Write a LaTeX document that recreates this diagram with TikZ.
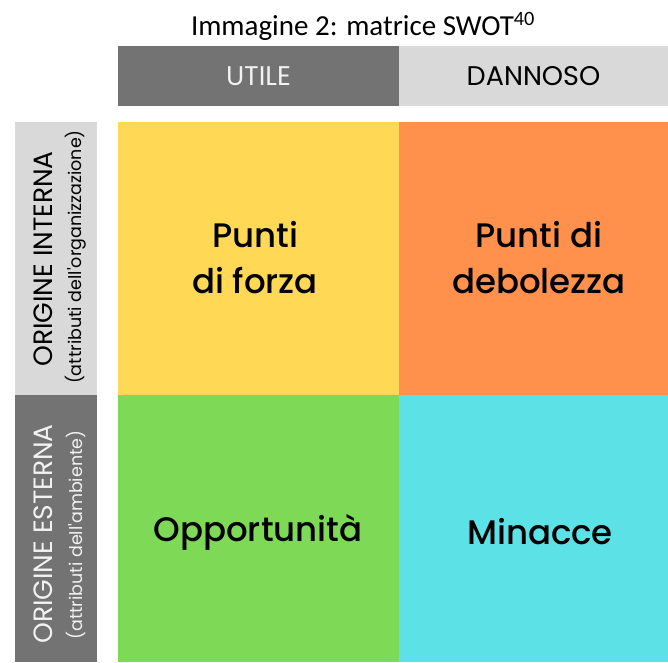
\documentclass[tikz,border=0pt]{standalone}
\usepackage{fontspec}
\setmainfont{Poppins}[UprightFont={* Regular}]
\newfontfamily\popmed{Poppins}[UprightFont={* Medium}]
\newfontfamily\popreg{Poppins}[UprightFont={* Regular}]
\newfontfamily\titlefont{Carlito}
\definecolor{darkgray}{HTML}{737373}
\definecolor{lightgray}{HTML}{D9D9D9}
\definecolor{qyellow}{HTML}{FFD955}
\definecolor{qorange}{HTML}{FF914D}
\definecolor{qgreen}{HTML}{7ED957}
\definecolor{qcyan}{HTML}{5CE1E6}
\definecolor{paletext}{HTML}{F2F2F2}
\tikzset{
  cell/.style={draw=none, inner sep=0pt, outer sep=0pt, anchor=north west},
  quadtext/.style={font=\popmed\fontsize{34}{46}\selectfont, align=center, text=black},
  headtext/.style={font=\popreg\fontsize{27}{30}\selectfont},
  sidetext/.style={font=\popreg\fontsize{26.5}{30}\selectfont, rotate=90},
  subtext/.style={font=\popreg\fontsize{17.5}{20}\selectfont, rotate=90},
}
\begin{document}
\begin{tikzpicture}[x=1pt,y=-1pt]
\useasboundingbox (0,0) rectangle (668,662);
% title
\node[font=\titlefont\fontsize{29}{32}\selectfont, anchor=base] (title) at (363,35) {Immagine 2: matrice SWOT\textsuperscript{40}};
% header
\node[cell, fill=darkgray, minimum width=281pt, minimum height=60pt] (hu) at (118,46) {};
\node[cell, fill=lightgray, minimum width=269pt, minimum height=60pt] (hd) at (399,46) {};
\node[headtext, text=paletext] (hutext) at (hu.center) {UTILE};
\node[headtext, text=black] (hdtext) at (hd.center) {DANNOSO};
% side strips
\node[cell, fill=lightgray, minimum width=82pt, minimum height=273pt] (si) at (15,122) {};
\node[cell, fill=darkgray, minimum width=82pt, minimum height=267pt] (se) at (15,395) {};
\node[sidetext, text=black] (sit) at (43,259) {ORIGINE INTERNA};
\node[subtext, text=black] (sis) at (76,257) {(attributi dell'organizzazione)};
\node[sidetext, text=paletext] (set) at (43,534) {ORIGINE ESTERNA};
\node[subtext, text=paletext] (ses) at (76,535) {(attributi dell'ambiente)};
% quadrants
\node[cell, fill=qyellow, minimum width=281pt, minimum height=273pt] (q1) at (118,122) {};
\node[cell, fill=qorange, minimum width=269pt, minimum height=273pt] (q2) at (399,122) {};
\node[cell, fill=qgreen, minimum width=281pt, minimum height=267pt] (q3) at (118,395) {};
\node[cell, fill=qcyan, minimum width=269pt, minimum height=267pt] (q4) at (399,395) {};
\node[quadtext] (t1) at (255,258) {Punti\\di forza};
\node[quadtext] (t2) at (539,258) {Punti di\\debolezza};
\node[quadtext] (t3) at (258,532) {Opportunità};
\node[quadtext] (t4) at (540,532) {Minacce};
\end{tikzpicture}
\end{document}
